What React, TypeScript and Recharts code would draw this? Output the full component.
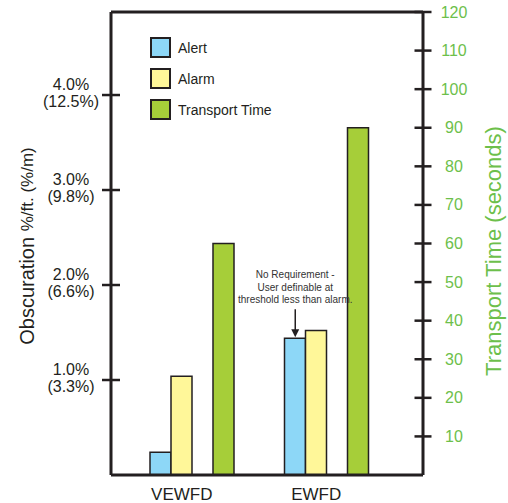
import React from 'react'
import {
  BarChart, Bar, XAxis, YAxis, Legend, ReferenceLine, ReferenceDot,
} from 'recharts'

const categories = ['VEWFD', 'EWFD']
const alertValues = [0.24, 1.44]
const alarmValues = [1.04, 1.52]
const transportValues = [60, 90]

const leftTicks = [1, 2, 3, 4]
const leftTickLabels = ['1.0%', '2.0%', '3.0%', '4.0%']
const leftTickMetric = ['(3.3%)', '(6.6%)', '(9.8%)', '(12.5%)']
const rightTicks = [10, 20, 30, 40, 50, 60, 70, 80, 90, 100, 110, 120]

const legendItems = [
  { name: 'Alert', color: '#8dd7f7' },
  { name: 'Alarm', color: '#fff799' },
  { name: 'Transport Time', color: '#a6ce39' },
]

const note = ['No Requirement -', 'User definable at', 'threshold less than alarm.']

const data = categories.map((c, i) => ({
  name: c,
  alert: alertValues[i],
  alarm: alarmValues[i],
  gap: 0,
  transport: transportValues[i],
}))

const INK = '#231f20'
const GREEN = '#6dbf4b'
const FONT = '"Liberation Sans", Arial, sans-serif'

function LeftTick({ x, y, payload }: any) {
  const i = leftTicks.indexOf(payload.value)
  return (
    <g>
      <line x1={x - 9} x2={x + 9} y1={y} y2={y} stroke={INK} strokeWidth={2.5} />
      <text x={x - 40} y={y - 5} textAnchor="middle" fontSize={16} fill={INK} fontFamily={FONT}>
        {leftTickLabels[i]}
      </text>
      <text x={x - 40} y={y + 12} textAnchor="middle" fontSize={16} fill={INK} fontFamily={FONT}>
        {leftTickMetric[i]}
      </text>
    </g>
  )
}

function RightTick({ x, y, payload }: any) {
  return (
    <g>
      <line x1={x - 8.5} x2={x + 8.5} y1={y} y2={y} stroke={INK} strokeWidth={2.5} />
      <text x={x + 31} y={y + 5.5} textAnchor="middle" fontSize={16} fill={GREEN} fontFamily={FONT}>
        {payload.value}
      </text>
    </g>
  )
}

function CategoryTick({ x, y, payload }: any) {
  return (
    <text x={x - 10.5} y={y + 25} textAnchor="middle" fontSize={17} fill={INK} fontFamily={FONT}>
      {payload.value}
    </text>
  )
}

function LeftTitle({ viewBox }: any) {
  const cx = viewBox.x + 27
  const cy = 246
  return (
    <text
      x={cx} y={cy} textAnchor="middle" dominantBaseline="central"
      transform={`rotate(-90 ${cx} ${cy})`} fill={INK} fontFamily={FONT}
    >
      <tspan fontSize={20}>Obscuration </tspan>
      <tspan fontSize={17}>%/ft. (%/m)</tspan>
    </text>
  )
}

function RightTitle({ viewBox }: any) {
  const cx = viewBox.x + 70
  const cy = 251
  return (
    <text
      x={cx} y={cy} textAnchor="middle" dominantBaseline="central"
      transform={`rotate(-90 ${cx} ${cy})`} fill={GREEN} fontSize={22} fontFamily={FONT}
    >
      Transport Time (seconds)
    </text>
  )
}

function LegendBox() {
  return (
    <div style={{ fontFamily: FONT, fontSize: 14, color: INK }}>
      {legendItems.map((it) => (
        <div key={it.name} style={{ display: 'flex', alignItems: 'center', height: 31 }}>
          <span
            style={{
              width: 17, height: 17, background: it.color, border: `2px solid ${INK}`,
              display: 'inline-block', marginRight: 7,
            }}
          />
          {it.name}
        </div>
      ))}
    </div>
  )
}

function NoteShape({ cx, cy }: any) {
  const x = cx - 31.5
  return (
    <g>
      {note.map((t, i) => (
        <text
          key={i} x={x} y={cy - 60 + i * 12.5} textAnchor="middle" fontSize={10}
          fill="#333" fontFamily={'"Liberation Sans Narrow", "Arial Narrow", sans-serif'}
        >
          {t}
        </text>
      ))}
      <line x1={x} x2={x} y1={cy - 29} y2={cy - 7} stroke={INK} strokeWidth={1.5} />
      <path d={`M${x - 4},${cy - 9} L${x + 4},${cy - 9} L${x},${cy - 1} Z`} fill={INK} />
    </g>
  )
}

export default function App() {
  return (
    <div style={{ position: 'absolute', left: 0, top: 0, background: '#fff' }}>
      <BarChart
        width={508}
        height={503}
        data={data}
        margin={{ top: 12, right: 0, bottom: 0, left: 0 }}
        barSize={21}
        barGap={0}
      >
        <XAxis
          dataKey="name"
          height={28}
          padding={{ left: 14, right: 29 }}
          axisLine={{ stroke: INK, strokeWidth: 3 }}
          tickLine={false}
          tickSize={0}
          tickMargin={0}
          tick={<CategoryTick />}
        />
        <YAxis
          yAxisId="left"
          width={111}
          domain={[0, 4.874]}
          ticks={leftTicks}
          axisLine={{ stroke: INK, strokeWidth: 3 }}
          tickLine={false}
          tickSize={0}
          tickMargin={0}
          tick={<LeftTick />}
          label={{ content: <LeftTitle /> }}
        />
        <YAxis
          yAxisId="right"
          orientation="right"
          width={85}
          domain={[0, 120]}
          ticks={rightTicks}
          axisLine={{ stroke: INK, strokeWidth: 3 }}
          tickLine={false}
          tickSize={0}
          tickMargin={0}
          tick={<RightTick />}
          label={{ content: <RightTitle /> }}
        />
        <ReferenceLine yAxisId="right" y={120} stroke={INK} strokeWidth={3} />
        <Legend
          layout="vertical"
          align="center"
          verticalAlign="middle"
          content={<LegendBox />}
          wrapperStyle={{ left: 150, top: 32, width: 160, height: 100 }}
        />
        <Bar yAxisId="left" dataKey="alert" fill="#8dd7f7" stroke={INK} strokeWidth={1.5} isAnimationActive={false} />
        <Bar yAxisId="left" dataKey="alarm" fill="#fff799" stroke={INK} strokeWidth={1.5} isAnimationActive={false} />
        <Bar yAxisId="left" dataKey="gap" fill="none" stroke="none" isAnimationActive={false} legendType="none" />
        <Bar yAxisId="right" dataKey="transport" fill="#a6ce39" stroke={INK} strokeWidth={1.5} isAnimationActive={false} />
        <ReferenceDot yAxisId="left" x="EWFD" y={alertValues[1]} r={0} shape={<NoteShape />} />
      </BarChart>
    </div>
  )
}
